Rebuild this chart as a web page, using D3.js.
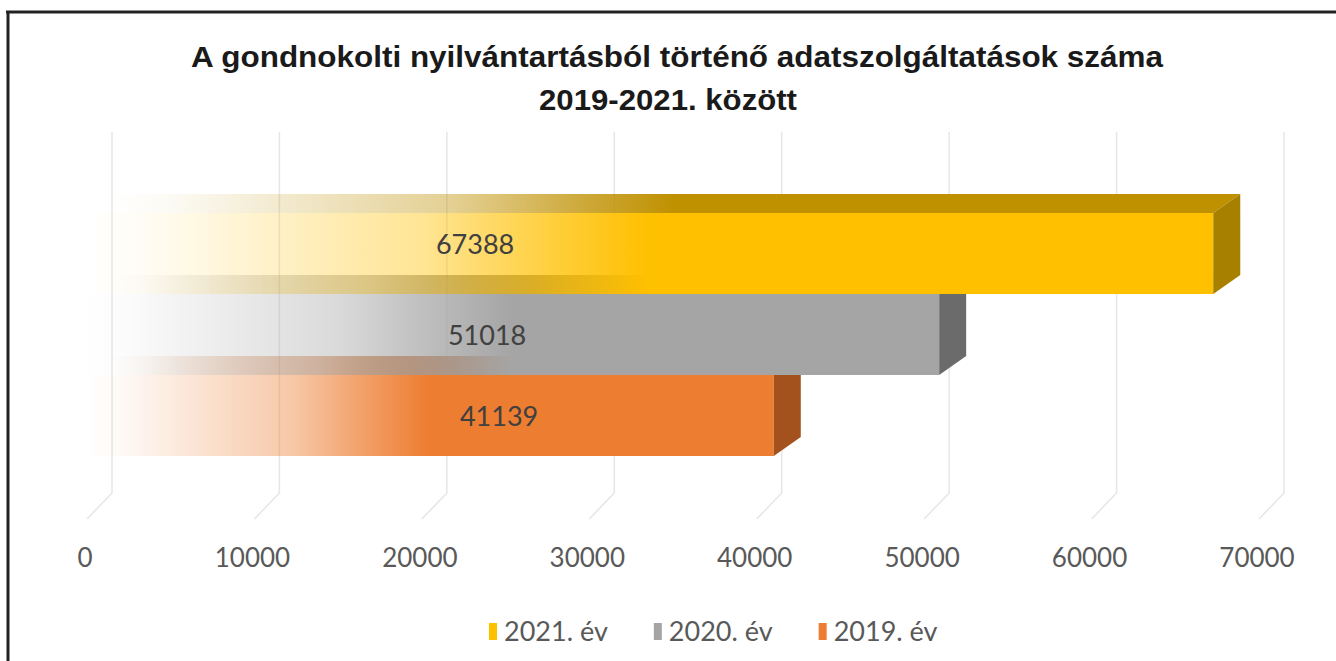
<!DOCTYPE html>
<html>
<head>
<meta charset="utf-8">
<script src="https://cdn.jsdelivr.net/npm/d3@7"></script>
<style>
  html, body { margin: 0; padding: 0; background: #fff; }
  svg { display: block; }
</style>
</head>
<body>
<div id="chart"></div>
<script>
// Data
const categories = ['2021. év', '2020. év', '2019. év'];
const values = [67388, 51018, 41139];
const tickValues = [0, 10000, 20000, 30000, 40000, 50000, 60000, 70000];

// colours: front, top, side
const frontColors = ['#ffc000', '#a5a5a5', '#ed7d31'];
const topColors = ['#bf9000', '#7f7f7f', '#c55a11'];
const sideColors = ['#a88000', '#6b6b6b', '#a4521d'];

const W = 1336, H = 661;
const depth = { dx: 27, dy: -19 };

const svg = d3.select('#chart')
  .append('svg')
  .attr('width', W)
  .attr('height', H);

const defs = svg.append('defs');

// frame (top + left only)
svg.append('line')
  .attr('x1', 6).attr('x2', W).attr('y1', 12).attr('y2', 12)
  .attr('stroke', '#222').attr('stroke-width', 3);
svg.append('line')
  .attr('x1', 8).attr('x2', 8).attr('y1', 11).attr('y2', H)
  .attr('stroke', '#222').attr('stroke-width', 3);

// title, two lines
const titleLines = [
  { text: 'A gondnokolti nyilvántartásból történő adatszolgáltatások száma', x: 677, y: 67, w: 972 },
  { text: '2019-2021. között', x: 668, y: 110, w: 258 }
];
svg.append('g')
  .selectAll('text')
  .data(titleLines)
  .enter()
  .append('text')
  .attr('text-anchor', 'middle')
  .attr('font-family', '"Liberation Sans", Arial, sans-serif')
  .attr('font-weight', 'bold')
  .attr('font-size', 30)
  .attr('fill', '#1a1a1a')
  .attr('x', d => d.x)
  .attr('y', d => d.y)
  .attr('textLength', d => d.w)
  .attr('lengthAdjust', 'spacingAndGlyphs')
  .text(d => d.text);

// scales: front plane of the 3D box
const x = d3.scaleLinear()
  .domain([0, 70000])
  .range([85, 1257]);

const y = d3.scaleBand()
  .domain(categories)
  .range([213, 456])
  .paddingInner(0);

const floorBack = 493, floorFront = 519, gridTop = 132;

// gridlines on the back wall + floor
const grid = svg.append('g').attr('class', 'grid');
grid.selectAll('path')
  .data(tickValues)
  .enter()
  .append('path')
  .attr('fill', 'none')
  .attr('stroke', '#e6e6e6')
  .attr('stroke-width', 1.5)
  .attr('d', d => {
    const bx = x(d) + depth.dx;
    return 'M' + bx + ',' + gridTop + 'L' + bx + ',' + floorBack +
      'L' + (x(d) + 2) + ',' + floorFront;
  });

// x axis labels
svg.append('g')
  .selectAll('text')
  .data(tickValues)
  .enter()
  .append('text')
  .attr('x', d => x(d))
  .attr('y', 567)
  .attr('text-anchor', 'middle')
  .attr('font-family', 'Lato, "Open Sans", sans-serif')
  .attr('font-size', 26)
  .attr('fill', '#595959')
  .text(d => d);

// gradients: fade from transparent on the left to solid
function fadeGradient(id, color, x0, x1) {
  const g = defs.append('linearGradient')
    .attr('id', id)
    .attr('gradientUnits', 'userSpaceOnUse')
    .attr('x1', x0).attr('x2', x1)
    .attr('y1', 0).attr('y2', 0);
  [[0, 0], [0.05, 0.04], [0.3, 0.42], [0.42, 0.78], [0.5, 1], [1, 1]].forEach(s => {
    g.append('stop')
      .attr('offset', s[0])
      .attr('stop-color', color)
      .attr('stop-opacity', s[1]);
  });
}

const bars = categories.map((c, i) => ({ cat: c, value: values[i], i: i }));

// draw back rows first (bottom category), so the row above covers its top face
const barG = svg.append('g').attr('class', 'bars');
bars.slice().reverse().forEach(d => {
  const x0 = x(0), x1 = x(d.value);
  const yt = y(d.cat), yb = y(d.cat) + y.bandwidth();
  fadeGradient('front' + d.i, frontColors[d.i], x0, x1);
  fadeGradient('top' + d.i, topColors[d.i], x0 + depth.dx, x1 + depth.dx);

  const g = barG.append('g');
  // top face
  g.append('path')
    .attr('fill', 'url(#top' + d.i + ')')
    .attr('d', 'M' + x0 + ',' + yt + 'L' + (x0 + depth.dx) + ',' + (yt + depth.dy) +
      'L' + (x1 + depth.dx) + ',' + (yt + depth.dy) + 'L' + x1 + ',' + yt + 'Z');
  // front face
  g.append('rect')
    .attr('x', x0)
    .attr('y', yt)
    .attr('width', x1 - x0)
    .attr('height', yb - yt)
    .attr('fill', 'url(#front' + d.i + ')');
  // side face
  g.append('path')
    .attr('fill', sideColors[d.i])
    .attr('d', 'M' + x1 + ',' + yt + 'L' + (x1 + depth.dx) + ',' + (yt + depth.dy) +
      'L' + (x1 + depth.dx) + ',' + (yb + depth.dy) + 'L' + x1 + ',' + yb + 'Z');
});

// data labels
svg.append('g')
  .selectAll('text')
  .data(bars)
  .enter()
  .append('text')
  .attr('x', d => x(23300) + d.i * 12)
  .attr('y', d => y(d.cat) + y.bandwidth() / 2 + 4 - (d.i === 0 ? 10 : 0))
  .attr('text-anchor', 'middle')
  .attr('dominant-baseline', 'middle')
  .attr('font-family', 'Lato, "Open Sans", sans-serif')
  .attr('font-size', 27)
  .attr('fill', '#404040')
  .text(d => d.value);

// legend
const legend = svg.append('g').attr('class', 'legend');
let lx = 489;
bars.forEach(d => {
  const lg = legend.append('g').attr('transform', 'translate(' + lx + ',0)');
  lg.append('rect')
    .attr('x', 0).attr('y', 623)
    .attr('width', 8).attr('height', 17)
    .attr('fill', frontColors[d.i]);
  const t = lg.append('text')
    .attr('x', 15)
    .attr('y', 641)
    .attr('font-family', 'Lato, "Open Sans", sans-serif')
    .attr('font-size', 27)
    .attr('fill', '#595959')
    .text(d.cat);
  lx += 15 + t.node().getComputedTextLength() + 46;
});
</script>
</body>
</html>
